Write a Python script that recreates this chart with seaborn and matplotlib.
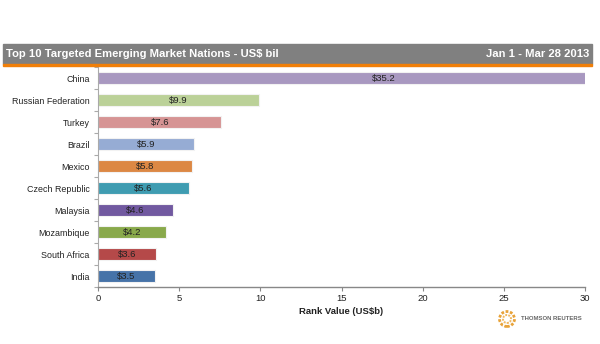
import matplotlib
matplotlib.use("Agg")
import matplotlib.pyplot as plt
import seaborn as sns
import pandas as pd
from matplotlib.patches import Rectangle, Ellipse

countries = ["China", "Russian Federation", "Turkey", "Brazil", "Mexico",
             "Czech Republic", "Malaysia", "Mozambique", "South Africa", "India"]
values = [35.2, 9.9, 7.6, 5.9, 5.8, 5.6, 4.6, 4.2, 3.6, 3.5]
labels = ["$35.2", "$9.9", "$7.6", "$5.9", "$5.8", "$5.6", "$4.6", "$4.2", "$3.6", "$3.5"]
colors = ["#A898C0", "#BBD198", "#D69494", "#96ACD4", "#DC8844",
          "#3F9CB1", "#7159A0", "#89A94B", "#B54949", "#4673A8"]
xticks = [0, 5, 10, 15, 20, 25, 30]

sns.set_theme(style="white")
plt.rcParams['font.family'] = ['Liberation Sans', 'DejaVu Sans']

df = pd.DataFrame({"country": countries, "value": values})

W, H = 600, 344
fig = plt.figure(figsize=(6, 3.44), dpi=100)
ax = fig.add_axes([98 / W, (H - 287) / H, (585 - 98) / W, (287 - 67) / H])

sns.barplot(data=df, y="country", x="value", hue="country", palette=colors,
            order=countries, hue_order=countries, legend=False, width=0.56,
            orient="h", ax=ax, edgecolor="#f2f2f2", linewidth=0.8, saturation=1)

ax.set_xlim(0, 30)
ax.set_ylim(len(countries) - 0.5, -0.5)
ax.set_xticks(xticks)
ax.set_xticklabels([str(t) for t in xticks], fontsize=6.8, color="#222222")
ax.set_yticks(range(len(countries)))
ax.set_yticklabels(countries, fontsize=6.4, color="#222222")
ax.tick_params(axis="y", length=0, pad=6)
ax.tick_params(axis="x", length=3, width=0.8, color="#888888", pad=2, direction="out", bottom=True)
ax.set_yticks([i - 0.5 for i in range(len(countries) + 1)], minor=True)
ax.tick_params(axis="y", which="minor", length=3, width=0.8, color="#aaaaaa", left=True)

for s in ["top", "right"]:
    ax.spines[s].set_visible(False)
ax.spines["left"].set_color("#aaaaaa")
ax.spines["left"].set_linewidth(0.8)
ax.spines["bottom"].set_color("#888888")
ax.spines["bottom"].set_linewidth(1.0)

ax.set_ylabel("")
ax.set_xlabel("Rank Value (US$b)", fontsize=6.8, fontweight="bold", color="#222222", labelpad=3)

for i, (v, lab) in enumerate(zip(values, labels)):
    ax.text(v / 2, i, lab, ha="center", va="center", fontsize=6.8, color="#222222")

# header bar
fig.patches.append(Rectangle((3 / W, (H - 64) / H), 589 / W, 20 / H,
                             transform=fig.transFigure, color="#808080", zorder=0))
fig.patches.append(Rectangle((3 / W, (H - 66) / H), 589 / W, 2 / H,
                             transform=fig.transFigure, color="#F07F09", zorder=0))
fig.text(6 / W, (H - 54) / H, "Top 10 Targeted Emerging Market Nations - US$ bil",
         fontsize=8.1, fontweight="bold", color="white", va="center", ha="left")
fig.text(589 / W, (H - 54) / H, "Jan 1 - Mar 28 2013",
         fontsize=8.1, fontweight="bold", color="white", va="center", ha="right")

# logo
cx, cy = 507 / W, (H - 319) / H
fig.patches.append(Ellipse((cx, cy), 15 / W, 15 / H, transform=fig.transFigure,
                           facecolor="none", edgecolor="#E8A33A", linewidth=2.0,
                           linestyle=(0, (1, 0.6))))
fig.patches.append(Ellipse((cx, cy), 8 / W, 8 / H, transform=fig.transFigure,
                           facecolor="none", edgecolor="#F0B860", linewidth=1.4,
                           linestyle=(0, (1, 0.6))))
fig.text(521 / W, cy, "THOMSON REUTERS", fontsize=4.3, fontweight="bold",
         color="#666666", va="center", ha="left")

fig.savefig("out.png", dpi=100, facecolor="white")
